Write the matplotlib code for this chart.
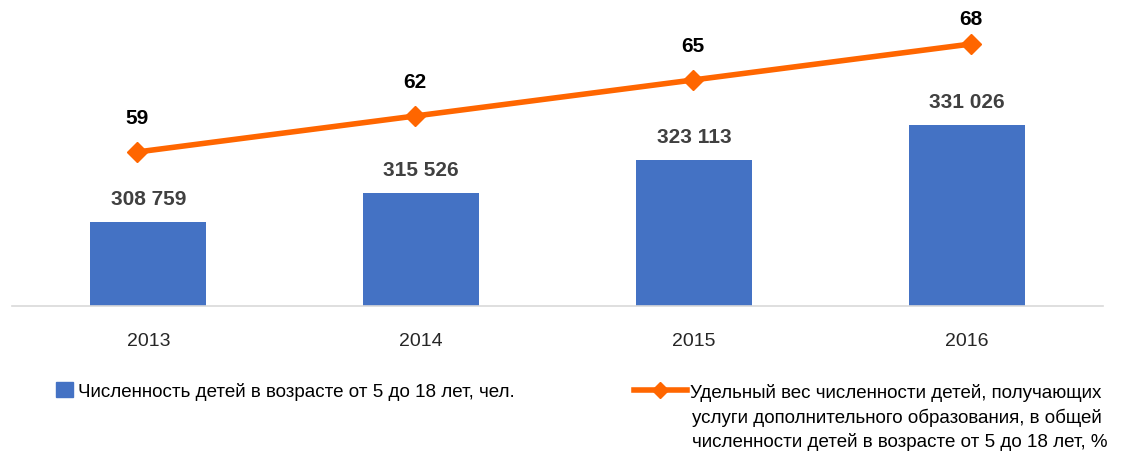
import numpy as np
import matplotlib.pyplot as plt
from matplotlib.patches import Patch
from matplotlib.lines import Line2D

plt.rcParams['font.family'] = ['Liberation Sans', 'DejaVu Sans']

years = ['2013', '2014', '2015', '2016']
children = [308759, 315526, 323113, 331026]
share = [59, 62, 65, 68]

bar_color = '#4472C4'
line_color = '#FF6600'

fig = plt.figure(figsize=(11.3, 4.52), dpi=100)
ax = fig.add_axes([12 / 1130, 145 / 452, 1091 / 1130, 307 / 452])

x = np.arange(len(years))
ax.bar(x, children, width=0.425, color=bar_color, zorder=2)
ax.set_xlim(-0.5, 3.5)
ax.set_ylim(289500, 360000)
ax.set_xticks(x)
ax.set_xticklabels(years, fontsize=14, color='#262626')
ax.tick_params(axis='x', length=0, pad=19)
ax.set_yticks([])
for s in ['top', 'left', 'right']:
    ax.spines[s].set_visible(False)
ax.spines['bottom'].set_color('#D9D9D9')
ax.spines['bottom'].set_linewidth(1.2)

for xi, v in zip(x, children):
    ax.annotate(f'{v:,}'.replace(',', ' '), (xi, v), xytext=(0, 10),
                textcoords='offset points', ha='center', va='bottom',
                fontsize=15, fontweight='bold', color='#404040')

# line on its own axes (secondary scale)
ax2 = fig.add_axes(ax.get_position(), frameon=False)
ax2.plot(x, share, color=line_color, lw=4, marker='D', ms=10, zorder=3)
ax2.set_xlim(-0.45, 3.475)
ax2.set_ylim(46.17, 71.75)
ax2.set_xticks([])
ax2.set_yticks([])
for xi, v in zip(x, share):
    # labels sit above the points but stay inside the plot area
    ax2.text(xi, min(v + 2.9, 70.1), str(v), ha='center', va='center',
             fontsize=15, fontweight='bold', color='black')

# legend
h1 = Patch(facecolor=bar_color, edgecolor=bar_color)
fig.legend([h1], ['Численность детей в возрасте от 5 до 18 лет, чел.'],
           loc='center left', bbox_to_anchor=(56 / 1130, 1 - 392 / 452),
           frameon=False, fontsize=13.5, handlelength=0.9, handleheight=0.9,
           handletextpad=0.3, borderpad=0, borderaxespad=0)
h2 = Line2D([], [], color=line_color, lw=4, marker='D', ms=8)
fig.legend([h2], ['Удельный вес численности детей, получающих'],
           loc='center left', bbox_to_anchor=(634 / 1130, 1 - 393 / 452),
           frameon=False, fontsize=13.5, handlelength=2.8,
           handletextpad=0.2, borderpad=0, borderaxespad=0)
fig.text(692 / 1130, 1 - 418 / 452,
         'услуги дополнительного образования, в общей', fontsize=13.5,
         va='center', ha='left', color='black')
fig.text(692 / 1130, 1 - 442 / 452,
         'численности детей в возрасте от 5 до 18 лет, %', fontsize=13.5,
         va='center', ha='left', color='black')

fig.savefig('out.png', dpi=100)
